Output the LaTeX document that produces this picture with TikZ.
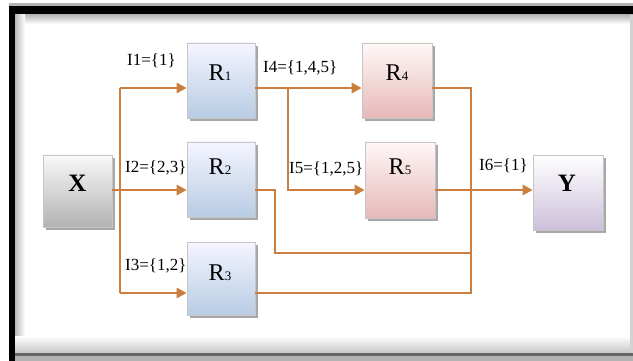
\documentclass[tikz,border=0pt]{standalone}
\usepackage{fontspec}
\setmainfont{Liberation Serif}
\usepackage{graphicx}
\usetikzlibrary{shadows,arrows.meta}
\definecolor{flow}{RGB}{204,126,62}
\newcommand{\Rlab}[1]{R\raisebox{0pt}{\fontsize{13}{13}\selectfont #1}}
\tikzset{
  box/.style={rectangle, draw=gray!45, line width=0.6pt, minimum width=68pt, minimum height=75pt,
    drop shadow={shadow xshift=3pt, shadow yshift=-3pt, fill=gray!75, opacity=0.9}},
  bluebox/.style={box, top color=blue!4!white, bottom color={rgb,255:red,184;green,204;blue,228}},
  pinkbox/.style={box, top color=red!3!white, bottom color={rgb,255:red,230;green,185;blue,184}},
  graybox/.style={box, top color=gray!5, bottom color=gray!60},
  violetbox/.style={box, top color=white, bottom color={rgb,255:red,204;green,192;blue,218}},
  ln/.style={draw=flow, line width=2.8pt},
  arr/.style={ln, -{Triangle[length=10pt,width=10pt]}},
  lab/.style={font=\fontsize{17}{17}\selectfont, inner sep=0pt, anchor=base west},
  rlab/.style={font=\fontsize{24}{24}\selectfont, inner sep=0pt, anchor=base},
  big/.style={font=\fontsize{25}{25}\selectfont\bfseries, inner sep=0pt, anchor=base}
}
\begin{document}
\begin{tikzpicture}[x=1pt,y=-1pt]
\useasboundingbox (0,0) rectangle (633,361);
\fill[white] (0,0) rectangle (633,361);
% frame
\fill[gray!60] (9,3) rectangle (633,6);
\fill[black] (9,6) rectangle (633,15);
\fill[black] (9,6) rectangle (15,361);
\shade[top color=gray!55, bottom color=white] (15,15) rectangle (633,24);
\shade[left color=gray!55, right color=white] (15,15) rectangle (25,353);
\shade[top color=white, bottom color=gray!45] (15,336) rectangle (633,353);
\fill[gray!80!black] (15,353) rectangle (633,356);
\fill[gray!60] (15,356) rectangle (633,361);
\fill[gray!35] (630,15) rectangle (633,353);

% boxes
\node[graybox, minimum width=69pt, minimum height=72pt] (X) at (77.5,191) {};
\node[bluebox] (R1) at (221,80.5) {};
\node[bluebox] (R2) at (221,179.5) {};
\node[bluebox, minimum height=73pt] (R3) at (221,278.5) {};
\node[pinkbox, minimum width=70pt] (R4) at (397,80.5) {};
\node[pinkbox, minimum width=70pt, minimum height=76pt] (R5) at (400,180) {};
\node[violetbox, minimum width=70pt] (Y) at (568,192.5) {};

% box texts
\node[big] (xt) at (77.5,192) {X};
\node[big] (yt) at (567,192) {Y};
\node[rlab] (r1t) at (220,81) {\Rlab{1}};
\node[rlab] (r2t) at (220,175) {\Rlab{2}};
\node[rlab] (r3t) at (220,280) {\Rlab{3}};
\node[rlab] (r4t) at (397,81) {\Rlab{4}};
\node[rlab] (r5t) at (400,175) {\Rlab{5}};

% junction coordinates
\coordinate (b1) at (120,88);
\coordinate (b2) at (120,190);
\coordinate (b3) at (120,293);
\coordinate (c1) at (288,88);
\coordinate (m1) at (471,88);
\coordinate (m3) at (471,293);
\coordinate (k1) at (275,190);
\coordinate (k2) at (275,253);
\coordinate (m2) at (471,253);

% connectors
\draw[ln] (b1) -- (b3);
\draw[arr] (b1) -- (b1 -| R1.west);
\draw[arr] (X.east |- b2) -- (b2 -| R2.west);
\draw[arr] (b3) -- (b3 -| R3.west);
\draw[arr] (R1.east |- c1) -- (c1 -| R4.west);
\draw[arr] (c1) |- (b2 -| R5.west);
\draw[ln] (R4.east |- m1) -- (m1) -- (m3) -- (b3 -| R3.east);
\draw[ln] (R2.east |- k1) -- (k1) -- (k2) -- (m2);
\draw[arr] (R5.east |- b2) -- (b2 -| Y.west);

% labels
\node[lab] (i1) at (127,66) {I1=\{1\}};
\node[lab] (i2) at (125,172) {I2=\{2,3\}};
\node[lab] (i3) at (125,270) {I3=\{1,2\}};
\node[lab] (i4) at (263,73) {I4=\{1,4,5\}};
\node[lab] (i5) at (289,174) {I5=\{1,2,5\}};
\node[lab] (i6) at (479,171) {I6=\{1\}};
\end{tikzpicture}
\end{document}
